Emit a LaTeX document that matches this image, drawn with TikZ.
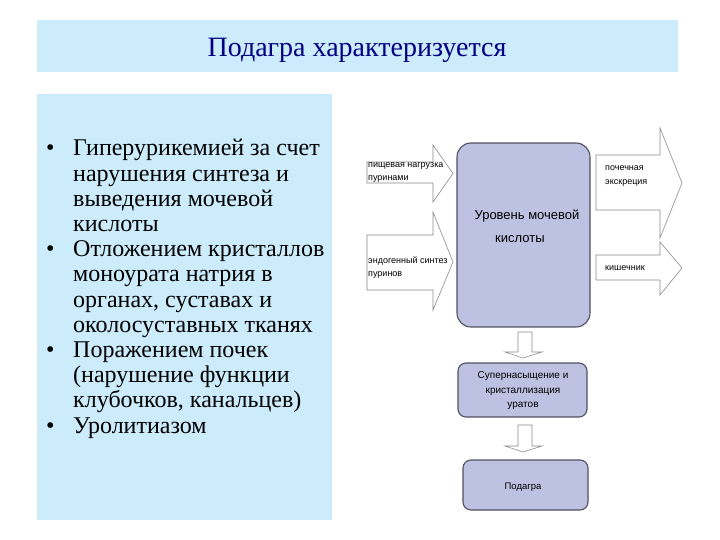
\documentclass[tikz,border=0pt]{standalone}
\usepackage{fontspec}
\setmainfont{Liberation Serif}
\newfontfamily\arial{Liberation Sans}
\definecolor{panelblue}{HTML}{CCEBFB}
\definecolor{navytxt}{HTML}{000080}
\definecolor{lav}{HTML}{BDC1E2}
\definecolor{boxline}{HTML}{50505E}
\definecolor{arrline}{HTML}{8A8A8A}
\tikzset{
  panel/.style={fill=panelblue, draw=none, inner sep=0pt},
  lavbox/.style={fill=lav, draw=boxline, line width=1.1pt, inner sep=0pt},
  blockarrow/.style={fill=white, draw=arrline, line width=0.6pt, line join=miter},
  smalltxt/.style={font=\arial\fontsize{9}{13.5}\selectfont, inner sep=0pt, align=left, anchor=west},
  bullettxt/.style={font=\fontsize{24}{25.2}\selectfont, inner sep=0pt, anchor=base west},
}
\begin{document}
\begin{tikzpicture}[x=1pt,y=-1pt]
\useasboundingbox (0,0) rectangle (720,540);
\fill[white] (0,0) rectangle (720,540);
% title
\node[panel, minimum width=641pt, minimum height=52pt] (titlebar) at (357.5,46) {};
\node[font=\fontsize{28}{32}\selectfont, text=navytxt, anchor=base, inner sep=0pt] (title) at (357,57) {Подагра характеризуется};
% left panel
\node[panel, minimum width=295pt, minimum height=426pt] (leftpanel) at (184.5,307) {};
\node[bullettxt] (b1) at (46,156) {•};
\node[bullettxt] (b2) at (46,256) {•};
\node[bullettxt] (b3) at (46,357) {•};
\node[bullettxt] (b4) at (46,433) {•};
\node[bullettxt] (items) at (73,156) {\begin{tabular}[t]{@{}l@{}}Гиперурикемией за счет\\нарушения синтеза и\\выведения мочевой\\кислоты\\Отложением кристаллов\\моноурата натрия в\\органах, суставах и\\околосуставных тканях\\Поражением почек\\(нарушение функции\\клубочков, канальцев)\\Уролитиазом\end{tabular}};
% big box
\node[lavbox, rounded corners=14pt, minimum width=133pt, minimum height=184pt] (level) at (523.5,235) {};
\node[font=\arial\fontsize{13}{15}\selectfont, inner sep=0pt, anchor=base] (levt1) at (527,220) {Уровень мочевой};
\node[font=\arial\fontsize{13}{15}\selectfont, inner sep=0pt, anchor=base west] (levt2) at (495,242) {кислоты};
% input arrows
\draw[blockarrow] (367,162) -- (433,162) -- (433,145) -- (453,173.5) -- (433,202) -- (433,183) -- (367,183) -- cycle;
\node[smalltxt] (in1) at (368,172.5) {пищевая нагрузка\\пуринами};
\draw[blockarrow] (367,235) -- (433,235) -- (433,212) -- (453,262) -- (433,310) -- (433,290) -- (367,290) -- cycle;
\node[smalltxt] (in2) at (368,267.5) {эндогенный синтез\\пуринов};
% output arrows
\draw[blockarrow] (596,155) -- (660,155) -- (660,128) -- (682,183) -- (660,238) -- (660,210) -- (596,210) -- cycle;
\node[smalltxt] (out1) at (605,176) {почечная\\экскреция};
\draw[blockarrow] (596,255) -- (660,255) -- (660,242) -- (682,268) -- (660,295) -- (660,280) -- (596,280) -- cycle;
\node[smalltxt] (out2) at (605,268) {кишечник};
% lower boxes
\node[lavbox, rounded corners=8pt, minimum width=129pt, minimum height=54pt] (super) at (522.5,390) {};
\node[font=\arial\fontsize{10}{14.5}\selectfont, inner sep=0pt, align=center] (supert) at (523,391) {Супернасыщение и\\кристаллизация\\уратов};
\node[lavbox, rounded corners=8pt, minimum width=125pt, minimum height=50pt] (gout) at (525.5,485) {};
\node[font=\arial\fontsize{9.5}{12}\selectfont, inner sep=0pt] (goutt) at (523,487) {Подагра};
% down arrows
\draw[blockarrow] (518,332) -- (532,332) -- (532,352) -- (542,352) -- (523,358) -- (505,352) -- (518,352) -- cycle;
\draw[blockarrow] (518,425) -- (532,425) -- (532,446) -- (542,446) -- (523,452) -- (505,446) -- (518,446) -- cycle;
\end{tikzpicture}
\end{document}
